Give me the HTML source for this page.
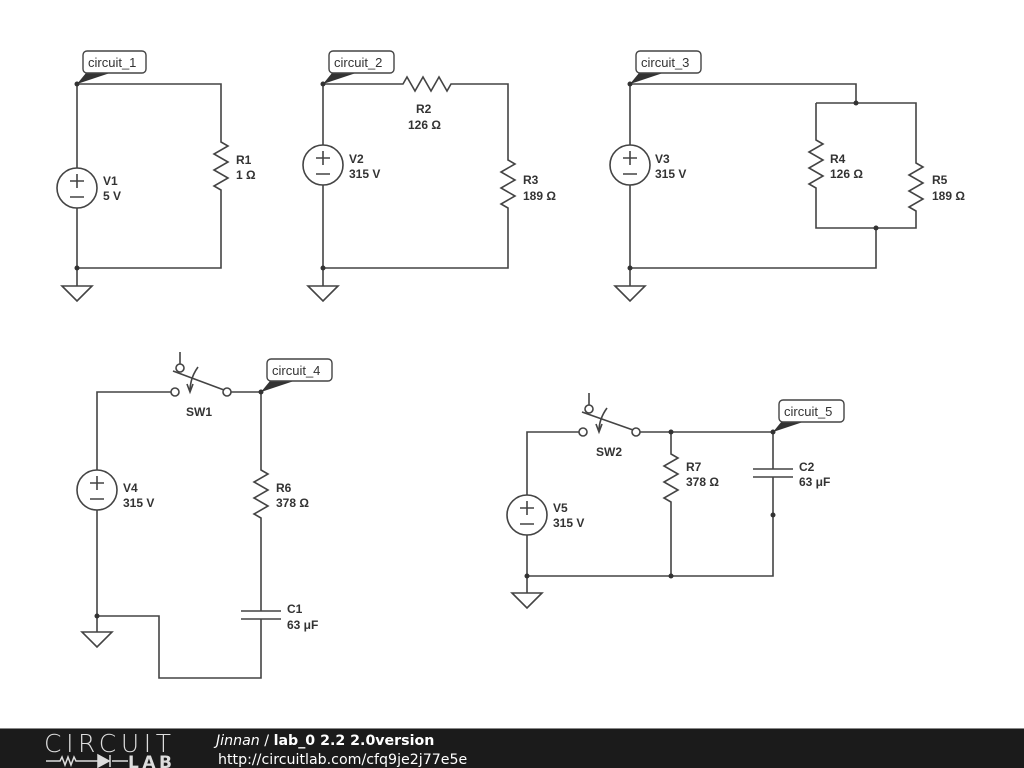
<!DOCTYPE html>
<html><head><meta charset="utf-8"><style>
body{margin:0;background:#fff;width:1024px;height:768px;overflow:hidden;font-family:"Liberation Sans",sans-serif}
svg{position:absolute;left:0;top:0}
.w{stroke:#444;stroke-width:1.6;fill:none}
.t{font-family:"Liberation Sans",sans-serif;font-weight:bold;font-size:12px;fill:#333}
.lb{font-family:"Liberation Sans",sans-serif;font-size:13px;fill:#333}
</style></head><body>
<svg width="1024" height="768" viewBox="0 0 1024 768">
<g class="w">
<!-- circuit 1 -->
<path d="M77,168V84H221V142 l7,4 l-14,8 l14,8 l-14,8 l14,8 l-14,8 l7,4 V268H77V208 M77,268V286"/>
<circle cx="77" cy="188" r="20"/>
<path d="M62,286H92L77,301Z"/>
<!-- circuit 2 -->
<path d="M323,145V84H403 l4,-7 l8,14 l8,-14 l8,14 l8,-14 l8,14 l4,-7 H508V160 l7,4 l-14,8 l14,8 l-14,8 l14,8 l-14,8 l7,4 V268H323V185 M323,268V286"/>
<circle cx="323" cy="165" r="20"/>
<path d="M308,286H338L323,301Z"/>
<!-- circuit 3 -->
<path d="M630,145V84H856V103 M816,103H916V163 l7,4 l-14,8 l14,8 l-14,8 l14,8 l-14,8 l7,4 V228H816V188 l-7,-4 l14,-8 l-14,-8 l14,-8 l-14,-8 l14,-8 l-7,-4 V103 M876,228V268H630V185 M630,268V286"/>
<circle cx="630" cy="165" r="20"/>
<path d="M615,286H645L630,301Z"/>
<!-- circuit 4 -->
<path d="M97,470V392H171 M231,392H261V470 l7,4 l-14,8 l14,8 l-14,8 l14,8 l-14,8 l7,4 V611 M261,619V678H159V616H97V510 M97,616V632"/>
<path d="M241,611H281 M241,619H281"/>
<circle cx="97" cy="490" r="20"/>
<path d="M82,632H112L97,647Z"/>
<circle cx="175" cy="392" r="4" fill="#fff"/>
<circle cx="227" cy="392" r="4" fill="#fff"/>
<circle cx="180" cy="368" r="4" fill="#fff"/>
<path d="M180,352V364 M173,371L224,390"/>
<path d="M198,367 Q190,378 190,391 M187,384 L190,392 L193,384"/>
<!-- circuit 5 -->
<path d="M527,495V432H579 M640,432H773V469 M773,477V576H527V535 M671,432V454 l7,4 l-14,8 l14,8 l-14,8 l14,8 l-14,8 l7,4 V576 M527,576V593"/>
<path d="M753,469H793 M753,477H793"/>
<circle cx="527" cy="515" r="20"/>
<path d="M512,593H542L527,608Z"/>
<circle cx="583" cy="432" r="4" fill="#fff"/>
<circle cx="636" cy="432" r="4" fill="#fff"/>
<circle cx="589" cy="409" r="4" fill="#fff"/>
<path d="M589,393V405 M582,412L633,430"/>
<path d="M607,408 Q599,419 599,431 M596,424 L599,432 L602,424"/>
<!-- plus/minus -->
<path d="M70,181H84 M77,174V188 M70,197H84 M316,158H330 M323,151V165 M316,174H330 M623,158H637 M630,151V165 M623,174H637 M90,483H104 M97,476V490 M90,499H104 M520,508H534 M527,501V515 M520,524H534"/>
</g>
<g fill="#333">
<circle cx="77" cy="84" r="2.5"/><circle cx="77" cy="268" r="2.5"/>
<circle cx="323" cy="84" r="2.5"/><circle cx="323" cy="268" r="2.5"/>
<circle cx="630" cy="84" r="2.5"/><circle cx="630" cy="268" r="2.5"/><circle cx="856" cy="103" r="2.5"/><circle cx="876" cy="228" r="2.5"/>
<circle cx="261" cy="392" r="2.5"/><circle cx="97" cy="616" r="2.5"/>
<circle cx="671" cy="432" r="2.5"/><circle cx="773" cy="432" r="2.5"/><circle cx="773" cy="515" r="2.5"/><circle cx="527" cy="576" r="2.5"/><circle cx="671" cy="576" r="2.5"/>
</g>
<!-- labels -->
<g>
<path d="M77,84 L86,73 L110,73 Z" fill="#333"/>
<rect x="83" y="51" width="63" height="22" rx="4" fill="#fff" stroke="#444" stroke-width="1.4"/>
<text class="lb" x="88" y="67">circuit_1</text>
<path d="M323,84 L332,73 L356,73 Z" fill="#333"/>
<rect x="329" y="51" width="65" height="22" rx="4" fill="#fff" stroke="#444" stroke-width="1.4"/>
<text class="lb" x="334" y="67">circuit_2</text>
<path d="M630,84 L639,73 L663,73 Z" fill="#333"/>
<rect x="636" y="51" width="65" height="22" rx="4" fill="#fff" stroke="#444" stroke-width="1.4"/>
<text class="lb" x="641" y="67">circuit_3</text>
<path d="M261,392 L270,381 L294,381 Z" fill="#333"/>
<rect x="267" y="359" width="65" height="22" rx="4" fill="#fff" stroke="#444" stroke-width="1.4"/>
<text class="lb" x="272" y="375">circuit_4</text>
<path d="M773,432 L782,421 L806,421 Z" fill="#333"/>
<rect x="779" y="400" width="65" height="22" rx="4" fill="#fff" stroke="#444" stroke-width="1.4"/>
<text class="lb" x="784" y="416">circuit_5</text>
</g>
<g class="t">
<text x="236" y="164">R1</text><text x="236" y="179">1 Ω</text>
<text x="103" y="185">V1</text><text x="103" y="200">5 V</text>
<text x="349" y="163">V2</text><text x="349" y="178">315 V</text>
<text x="416" y="113">R2</text><text x="408" y="129">126 Ω</text>
<text x="523" y="184">R3</text><text x="523" y="200">189 Ω</text>
<text x="655" y="163">V3</text><text x="655" y="178">315 V</text>
<text x="830" y="163">R4</text><text x="830" y="178">126 Ω</text>
<text x="932" y="184">R5</text><text x="932" y="200">189 Ω</text>
<text x="186" y="416">SW1</text>
<text x="123" y="492">V4</text><text x="123" y="507">315 V</text>
<text x="276" y="492">R6</text><text x="276" y="507">378 Ω</text>
<text x="287" y="613">C1</text><text x="287" y="629">63 μF</text>
<text x="596" y="456">SW2</text>
<text x="553" y="512">V5</text><text x="553" y="527">315 V</text>
<text x="686" y="471">R7</text><text x="686" y="486">378 Ω</text>
<text x="799" y="471">C2</text><text x="799" y="486">63 μF</text>
</g>
<!-- footer -->
<rect x="0" y="729" width="1024" height="39" fill="#1b1b1b"/>
<rect x="0" y="728" width="1024" height="1" fill="#888"/>
<text x="44" y="752" font-family="DejaVu Sans" font-weight="200" font-size="25" fill="#ddd" letter-spacing="1" textLength="128">CIRCUIT</text>
<path d="M46,761H60 l2,-4 l3,8 l3,-8 l3,8 l3,-8 l2,4 H98 M112,761H128" stroke="#ddd" stroke-width="1.5" fill="none"/>
<path d="M98,755V767L109,761Z M110,755V767" fill="#ddd" stroke="#ddd" stroke-width="1.5"/>
<text x="128" y="768" font-family="DejaVu Sans" font-weight="bold" font-size="17" fill="#ddd" textLength="44">LAB</text>
<text x="216" y="745" font-family="DejaVu Sans" font-size="14.2" fill="#fff"><tspan font-style="italic">Jinnan</tspan> / <tspan font-weight="bold">lab_0 2.2 2.0version</tspan></text>
<text x="218" y="764" font-family="DejaVu Sans" font-size="14.2" fill="#fff">http://circuitlab.com/cfq9je2j77e5e</text>
</svg>
</body></html>
